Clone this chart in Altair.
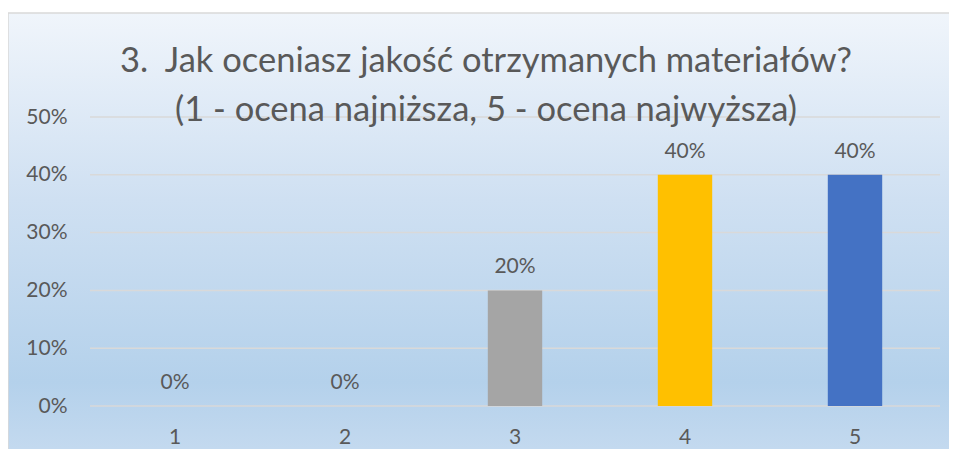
import altair as alt
import pandas as pd

categories = ["1", "2", "3", "4", "5"]
values = [0.0, 0.0, 0.2, 0.4, 0.4]
bar_colors = ["#5b9bd5", "#ed7d31", "#a5a5a5", "#ffc000", "#4472c4"]
y_ticks = [0.0, 0.1, 0.2, 0.3, 0.4, 0.5]
title_lines = ["3.\u00a0 Jak oceniasz jakość otrzymanych materiałów?",
               "(1 - ocena najniższa, 5 - ocena najwyższa)"]

df = pd.DataFrame({"cat": categories, "val": values, "color": bar_colors})
grid_df = pd.DataFrame({"t": y_ticks})

FONT = "Lato"
TXT = "#595959"
W, H = 850, 289

bg = alt.Chart(alt.Data(values=[{"a": 1}])).mark_rect(
    clip=False,
    stroke="#d9d9d9",
    strokeWidth=1.5,
    fill=alt.LinearGradient(
        gradient="linear",
        x1=0, x2=0, y1=0, y2=1,
        stops=[
            alt.GradientStop(color="#f0f5fb", offset=0),
            alt.GradientStop(color="#cfe0f2", offset=0.395),
            alt.GradientStop(color="#b4d1eb", offset=0.78),
            alt.GradientStop(color="#c3d9ef", offset=0.92),
            alt.GradientStop(color="#c8dcf0", offset=1),
        ],
    ),
).encode(
    x=alt.value(-82), x2=alt.value(W + 40),
    y=alt.value(-104), y2=alt.value(H + 80),
)

y_scale = alt.Scale(domain=[0, 0.5])

grid = alt.Chart(grid_df).mark_rule(color="#d9d9d9", strokeWidth=1.5).encode(
    y=alt.Y("t:Q", scale=y_scale),
    x=alt.value(0), x2=alt.value(W),
)

x_enc = alt.X("cat:N", sort=categories, title=None,
              scale=alt.Scale(paddingInner=0.68, paddingOuter=0.34),
              axis=alt.Axis(labelAngle=0, labelFont=FONT, labelFontSize=21,
                            labelColor=TXT, ticks=False, tickSize=0,
                            labelPadding=20, domain=False, grid=False,
                            zindex=1))
y_enc = alt.Y("val:Q", title=None, scale=y_scale,
              axis=alt.Axis(format=".0%", values=y_ticks,
                            labelFont=FONT, labelFontSize=21, labelColor=TXT,
                            ticks=False, tickSize=0, labelPadding=23,
                            domain=False, grid=False, zindex=1))

bars = alt.Chart(df).mark_bar().encode(
    x=x_enc, y=y_enc,
    color=alt.Color("color:N", scale=None),
)

labels = alt.Chart(df).mark_text(
    font=FONT, fontSize=21, color=TXT, baseline="bottom", dy=-13
).encode(
    x=alt.X("cat:N", sort=categories),
    y=alt.Y("val:Q", scale=y_scale),
    text=alt.Text("val:Q", format=".0%"),
)

chart = alt.layer(bg, grid, bars, labels).properties(
    width=W, height=H,
    title=alt.TitleParams(
        text=title_lines, font=FONT, fontSize=34.5, fontWeight="normal",
        color=TXT, anchor="middle", lineHeight=49, dx=-29, dy=98,
        offset=-18, zindex=1,
    ),
    autosize=alt.AutoSizeParams(type="none"),
    padding={"left": 82, "top": 109, "right": 9, "bottom": 43},
).configure_view(stroke=None).configure(background="#ffffff")

chart.save("out.html", embed_options={"renderer": "svg", "actions": False})
